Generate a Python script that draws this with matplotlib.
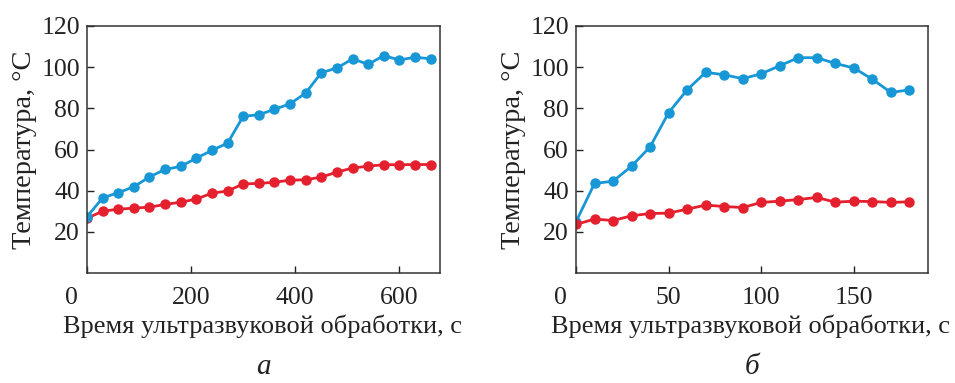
import matplotlib
matplotlib.use("Agg")
import matplotlib.pyplot as plt
from matplotlib.transforms import ScaledTranslation

plt.rcParams['font.family'] = ['Liberation Serif', 'DejaVu Serif']
plt.rcParams['mathtext.fontset'] = 'stix'

# Panel a
t_a = [0, 30, 60, 90, 120, 150, 180, 210, 240, 270, 300, 330, 360, 390, 420,
       450, 480, 510, 540, 570, 600, 630, 660]
blue_a = [27.3, 36.5, 39.0, 41.9, 46.7, 50.3, 51.8, 55.8, 59.6, 63.1, 76.1, 76.9,
          79.5, 82.2, 87.4, 97.3, 99.6, 104.0, 101.4, 105.6, 103.5, 104.8, 104.1]
red_a = [26.6, 30.0, 31.0, 31.5, 32.0, 33.3, 34.4, 35.9, 38.8, 39.8, 43.3, 43.5,
         44.1, 45.1, 45.3, 46.6, 49.0, 51.0, 51.9, 52.6, 52.6, 52.7, 52.7]

# Panel b
t_b = [0, 10, 20, 30, 40, 50, 60, 70, 80, 90, 100, 110, 120, 130, 140, 150,
       160, 170, 180]
blue_b = [24.9, 43.5, 44.6, 51.9, 61.3, 77.9, 89.0, 97.5, 96.3, 94.4, 96.8, 100.7,
          104.6, 104.6, 101.8, 99.6, 94.1, 87.7, 89.0]
red_b = [23.6, 26.2, 25.5, 27.8, 28.9, 29.1, 31.0, 33.0, 32.3, 31.8, 34.3, 34.9,
         35.7, 36.7, 34.4, 34.9, 34.7, 34.3, 34.6]

xticks_a = [0, 200, 400, 600]
xticks_b = [0, 50, 100, 150]
yticks = [20, 40, 60, 80, 100, 120]
ylabel = 'Температура, °С'
xlabel = 'Время ультразвуковой обработки, с'
panel_labels = ['а', 'б']

BLUE = '#1797d6'
RED = '#e5202e'
TXT = '#222222'
W, H = 955, 383
fig = plt.figure(figsize=(W / 100, H / 100), dpi=100)

def make_axes(x0, x1, y0, y1):
    return fig.add_axes([x0 / W, 1 - y1 / H, (x1 - x0) / W, (y1 - y0) / H])

ax1 = make_axes(87, 440, 26, 273)
ax2 = make_axes(576, 928, 26, 273)

def style(ax, xlim, xticks, xl_center):
    ax.set_xlim(*xlim)
    ax.set_ylim(0, 120)
    ax.set_xticks(xticks)
    ax.set_yticks(yticks)
    ax.tick_params(direction='in', length=5, width=1.0, labelsize=18.5,
                   colors=TXT)
    ax.tick_params(axis='x', pad=10)
    ax.tick_params(axis='y', pad=5)
    for s in ax.spines.values():
        s.set_linewidth(1.1)
        s.set_color('#333333')
    ax.set_ylabel(ylabel, fontsize=20.5, color=TXT, labelpad=3)
    fig.text(xl_center / W, 1 - 326 / H, xlabel, fontsize=19, color=TXT,
             ha='center', va='center')
    lbl = ax.get_xticklabels()[0]
    lbl.set_transform(lbl.get_transform() + ScaledTranslation(-0.16, 0, fig.dpi_scale_trans))

kw = dict(lw=2.0, marker='o', markersize=6.5)
ax1.plot(t_a, red_a, color=RED, **kw)
ax1.plot(t_a, blue_a, color=BLUE, **kw)
ax2.plot(t_b, blue_b, color=BLUE, **kw)
ax2.plot(t_b, red_b, color=RED, **kw)

style(ax1, (0, 678), xticks_a, 262)
style(ax2, (0, 190), xticks_b, 750)

fig.text(263 / W, 1 - 367 / H, panel_labels[0], fontsize=21, style='italic',
         ha='center', va='center', color=TXT)
fig.text(752 / W, 1 - 367 / H, panel_labels[1], fontsize=21, style='italic',
         ha='center', va='center', color=TXT)

fig.savefig('out.png', dpi=100)
